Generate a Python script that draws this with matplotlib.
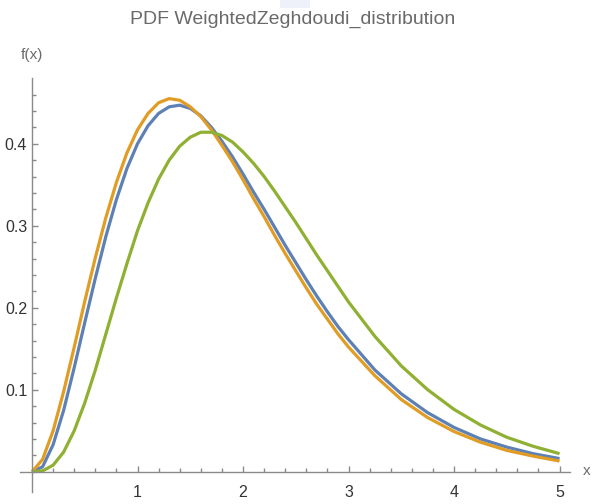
"""
plot.py
PDF curves of the weighted Zeghdoudi distribution for three parameter sets
"""

import matplotlib
matplotlib.use("Agg")
from matplotlib import pyplot as plt
from matplotlib.patches import Rectangle
from matplotlib.ticker import FixedLocator, FormatStrFormatter

# Sample points shared by all three curves
x_vals = [0.0, 0.1, 0.2, 0.3, 0.4, 0.5, 0.6, 0.7, 0.8, 0.9,
          1.0, 1.1, 1.2, 1.3, 1.4, 1.5, 1.6, 1.7, 1.8, 1.9,
          2.0, 2.1, 2.2, 2.3, 2.4, 2.5, 2.6, 2.7, 2.8, 2.9,
          3.0, 3.25, 3.5, 3.75, 4.0, 4.25, 4.5, 4.75, 5.0]

# f(x) for each parameter set
pdf_blue = [0.0, 0.006, 0.033, 0.075, 0.127, 0.182, 0.236, 0.287, 0.332, 0.370,
            0.400, 0.422, 0.437, 0.445, 0.447, 0.443, 0.434, 0.420, 0.403, 0.384,
            0.363, 0.341, 0.320, 0.298, 0.276, 0.255, 0.234, 0.214, 0.195, 0.177,
            0.161, 0.124, 0.095, 0.072, 0.054, 0.040, 0.030, 0.022, 0.016]
pdf_orange = [0.0, 0.015, 0.050, 0.098, 0.152, 0.208, 0.261, 0.310, 0.353, 0.389,
              0.417, 0.437, 0.450, 0.455, 0.453, 0.445, 0.433, 0.417, 0.398, 0.378,
              0.356, 0.333, 0.311, 0.288, 0.266, 0.245, 0.224, 0.204, 0.186, 0.168,
              0.152, 0.117, 0.088, 0.066, 0.049, 0.036, 0.026, 0.019, 0.013]
pdf_green = [0.0, 0.001, 0.008, 0.024, 0.050, 0.084, 0.124, 0.168, 0.212, 0.254,
             0.294, 0.328, 0.357, 0.380, 0.397, 0.408, 0.414, 0.414, 0.410, 0.402,
             0.390, 0.376, 0.360, 0.342, 0.323, 0.304, 0.284, 0.264, 0.245, 0.226,
             0.207, 0.165, 0.129, 0.100, 0.076, 0.057, 0.042, 0.031, 0.022]

x_major = [1, 2, 3, 4, 5]
y_major = [0.1, 0.2, 0.3, 0.4]
TITLE = "PDF WeightedZeghdoudi_distribution"

# Colors
BLUE = "#5e81b5"
ORANGE = "#e19c24"
GREEN = "#8fb032"
AXIS_GRAY = "#8a8a8a"
LABEL_GRAY = "#6a6a6a"
TICK_TEXT = "#333333"
LINEWIDTH = 2.3
FONT = "Liberation Sans"

fig = plt.figure(figsize=(5.92, 5.04), dpi=100)
ax = fig.add_axes([0.0345, 0.0234, 0.9285, 0.8216])

for series, col in ((pdf_blue, BLUE), (pdf_orange, ORANGE), (pdf_green, GREEN)):
    ax.plot(x_vals, series, color=col, linewidth=LINEWIDTH,
            solid_capstyle="butt", solid_joinstyle="round")

ax.set_xlim(-0.11, 5.1)
ax.set_ylim(-0.025, 0.48)

# axes crossing at the origin
for side in ("top", "right"):
    ax.spines[side].set_visible(False)
for side in ("left", "bottom"):
    ax.spines[side].set_position(("data", 0))
    ax.spines[side].set_color(AXIS_GRAY)
    ax.spines[side].set_linewidth(1.0)

x_minor = [i / 5 for i in range(1, 26) if i % 5]
y_minor = [i / 50 for i in range(1, 24) if i % 5]
ax.xaxis.set_major_locator(FixedLocator(x_major))
ax.xaxis.set_minor_locator(FixedLocator(x_minor))
ax.yaxis.set_major_locator(FixedLocator(y_major))
ax.yaxis.set_minor_locator(FixedLocator(y_minor))
ax.yaxis.set_major_formatter(FormatStrFormatter("%.1f"))

ax.tick_params(which="both", direction="in", color=AXIS_GRAY, width=1.0)
ax.tick_params(which="major", length=4.5)
ax.tick_params(which="minor", length=2.8)
ax.tick_params(axis="x", which="major", pad=9.5)
ax.tick_params(axis="y", which="major", pad=3.5)
for lab in ax.get_xticklabels() + ax.get_yticklabels():
    lab.set_fontfamily(FONT)
    lab.set_fontsize(11.5)
    lab.set_color(TICK_TEXT)

fig.text(0.494, 0.962, TITLE, ha="center", va="center", fontsize=14,
         family=FONT, color=LABEL_GRAY)
fig.text(32 / 592, 1 - 55 / 504, "f(x)", ha="center", va="center", fontsize=11,
         family=FONT, color=LABEL_GRAY)
fig.text(587 / 592, 1 - 471 / 504, "x", ha="center", va="center", fontsize=11,
         family=FONT, color=LABEL_GRAY)

# faint highlight box along the top edge
fig.patches.append(Rectangle((280 / 592, 1 - 8 / 504), 30 / 592, 8 / 504,
                             transform=fig.transFigure, facecolor="#eef0fa",
                             edgecolor="none", zorder=0))

fig.savefig("out.png", dpi=100)
